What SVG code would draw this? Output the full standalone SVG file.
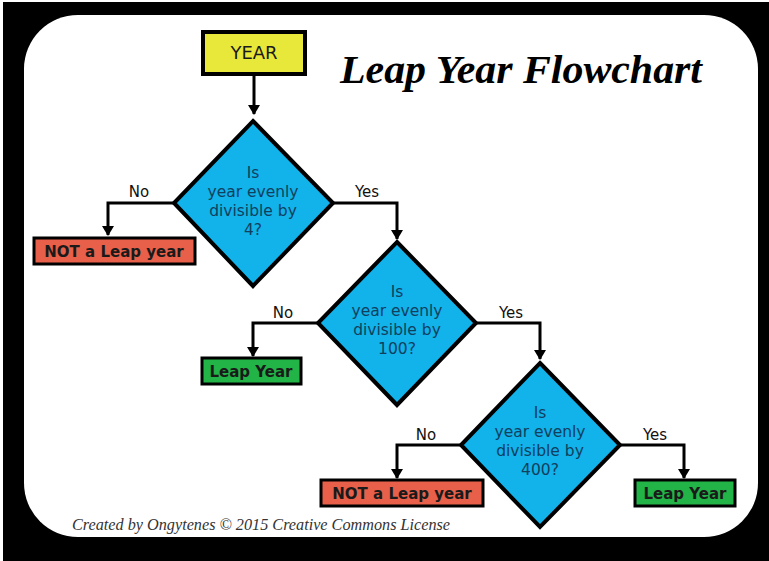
<svg xmlns="http://www.w3.org/2000/svg" width="769" height="561" viewBox="0 0 769 561">
<defs>
<marker id="ah" markerUnits="userSpaceOnUse" markerWidth="10" markerHeight="12" refX="9" refY="6" orient="auto" viewBox="0 0 10 12">
<path d="M0,0 L10,6 L0,12 Z" fill="#000"/>
</marker>
<style>
.dia{fill:#12b2ea;stroke:#000;stroke-width:4;stroke-linejoin:miter}
.dt{font-family:"DejaVu Sans",Verdana,sans-serif;font-size:15.5px;fill:#10405e;text-anchor:middle}
.lbl{font-family:"DejaVu Sans",Verdana,sans-serif;font-size:15px;fill:#111;text-anchor:middle}
.box{stroke:#000;stroke-width:3}
.red{fill:#e8604a}
.grn{fill:#22b447}
.bt{font-family:"DejaVu Sans",Verdana,sans-serif;font-size:15px;font-weight:bold;fill:#1a1a1a;text-anchor:middle}
.ln{fill:none;stroke:#000;stroke-width:3;marker-end:url(#ah)}
</style>
</defs>
<rect x="0" y="0" width="769" height="561" fill="#fff"/>
<rect x="3" y="2" width="766" height="559" fill="#000"/>
<rect x="24" y="15" width="734" height="522" rx="54" ry="54" fill="#fff"/>
<text x="521" y="83" font-family="'Liberation Serif','Times New Roman',serif" font-style="italic" font-weight="bold" font-size="40" text-anchor="middle" textLength="362" lengthAdjust="spacingAndGlyphs" fill="#000">Leap Year Flowchart</text>
<text x="72" y="530" font-family="'Liberation Serif','Times New Roman',serif" font-style="italic" font-size="16" textLength="378" lengthAdjust="spacingAndGlyphs" fill="#333">Created by Ongytenes  © 2015 Creative Commons License</text>
<g id="connectors">
<path class="ln" d="M254,75 V114"/>
<path class="ln" d="M173,203 H108 V235"/>
<path class="ln" d="M333,203 H397 V239"/>
<path class="ln" d="M317,323 H253 V356"/>
<path class="ln" d="M477,323 H540 V359"/>
<path class="ln" d="M460,445 H397 V478"/>
<path class="ln" d="M620,445 H684 V478"/>
<text class="lbl" x="139" y="197">No</text>
<text class="lbl" x="367" y="197">Yes</text>
<text class="lbl" x="283" y="318">No</text>
<text class="lbl" x="511" y="318">Yes</text>
<text class="lbl" x="426" y="440">No</text>
<text class="lbl" x="655" y="440">Yes</text>
</g>
<g id="year">
<rect x="203" y="32" width="102" height="42" fill="#e8e83a" stroke="#000" stroke-width="4"/>
<text x="254" y="59" font-family="'DejaVu Sans',Verdana,sans-serif" font-size="18" fill="#1a1a1a" text-anchor="middle">YEAR</text>
</g>
<g id="d4">
<polygon class="dia" points="253,121 333,203 253,286 174,203"/>
<text class="dt" x="253" y="178">Is</text>
<text class="dt" x="253" y="197">year evenly</text>
<text class="dt" x="253" y="216">divisible by</text>
<text class="dt" x="253" y="235">4?</text>
</g>
<g id="d100">
<polygon class="dia" points="397,242 476,323 397,405 318,323"/>
<text class="dt" x="397" y="297">Is</text>
<text class="dt" x="397" y="316">year evenly</text>
<text class="dt" x="397" y="335">divisible by</text>
<text class="dt" x="397" y="354">100?</text>
</g>
<g id="d400">
<polygon class="dia" points="540,363 620,445 540,527 461,445"/>
<text class="dt" x="540" y="418">Is</text>
<text class="dt" x="540" y="437">year evenly</text>
<text class="dt" x="540" y="456">divisible by</text>
<text class="dt" x="540" y="475">400?</text>
</g>
<g id="not1">
<rect class="box red" x="34" y="238" width="161" height="26"/>
<text class="bt" x="114" y="257">NOT a Leap year</text>
</g>
<g id="leap1">
<rect class="box grn" x="202" y="358" width="99" height="26"/>
<text class="bt" x="251" y="377">Leap Year</text>
</g>
<g id="not2">
<rect class="box red" x="321" y="480" width="162" height="26"/>
<text class="bt" x="402" y="499">NOT a Leap year</text>
</g>
<g id="leap2">
<rect class="box grn" x="635" y="480" width="100" height="26"/>
<text class="bt" x="685" y="499">Leap Year</text>
</g>
</svg>
